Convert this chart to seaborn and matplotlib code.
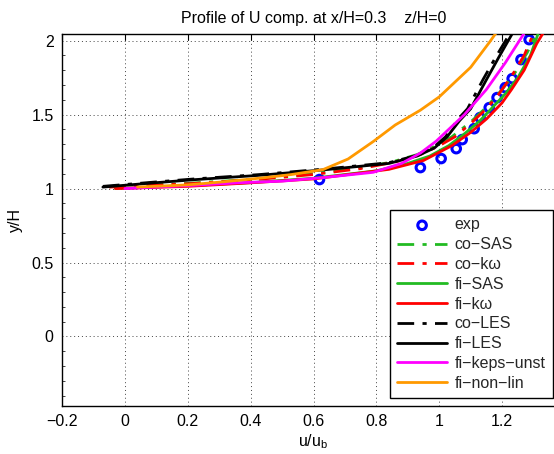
import matplotlib
matplotlib.use("Agg")
import matplotlib.pyplot as plt
import seaborn as sns
import pandas as pd
from matplotlib.ticker import MultipleLocator

sns.set_theme(style="white")
plt.rcParams['font.family'] = ['Liberation Sans', 'DejaVu Sans']

# ---- data ----
exp_u = [0.619, 0.940, 1.006, 1.054, 1.073, 1.111, 1.130, 1.159, 1.184, 1.210, 1.232, 1.260, 1.286]
exp_y = [1.061, 1.142, 1.203, 1.270, 1.331, 1.405, 1.480, 1.547, 1.615, 1.682, 1.743, 1.872, 2.007]

coSAS_u = [-0.05, 0.20, 0.40, 0.60, 0.75, 0.85, 0.93, 0.99, 1.04, 1.10, 1.15, 1.20, 1.24, 1.28, 1.31]
coSAS_y = [1.012, 1.035, 1.062, 1.100, 1.140, 1.180, 1.230, 1.290, 1.350, 1.450, 1.550, 1.670, 1.780, 1.920, 2.050]

cokw_u = [-0.05, 0.20, 0.40, 0.60, 0.75, 0.86, 0.94, 1.00, 1.05, 1.10, 1.15, 1.19, 1.23, 1.27, 1.30]
cokw_y = [1.010, 1.032, 1.058, 1.095, 1.135, 1.180, 1.230, 1.290, 1.350, 1.440, 1.540, 1.640, 1.760, 1.900, 2.050]

fiSAS_u = [-0.03, 0.20, 0.40, 0.60, 0.80, 0.90, 0.97, 1.03, 1.08, 1.13, 1.17, 1.21, 1.25, 1.29, 1.315]
fiSAS_y = [1.000, 1.020, 1.040, 1.070, 1.120, 1.170, 1.220, 1.290, 1.370, 1.460, 1.550, 1.640, 1.750, 1.900, 2.050]

fikw_u = [-0.03, 0.20, 0.37, 0.60, 0.84, 0.95, 1.04, 1.10, 1.15, 1.20, 1.23, 1.27, 1.31, 1.33]
fikw_y = [1.000, 1.015, 1.035, 1.065, 1.130, 1.190, 1.290, 1.380, 1.470, 1.580, 1.670, 1.800, 1.980, 2.050]

coLES_u = [-0.07, 0.10, 0.22, 0.43, 0.64, 0.84, 0.93, 0.98, 1.02, 1.06, 1.09, 1.14, 1.18, 1.225]
coLES_y = [1.015, 1.045, 1.065, 1.095, 1.133, 1.175, 1.225, 1.275, 1.350, 1.470, 1.540, 1.740, 1.890, 2.050]

fiLES_u = [-0.07, 0.10, 0.22, 0.43, 0.64, 0.84, 0.93, 0.985, 1.025, 1.065, 1.10, 1.15, 1.19, 1.233]
fiLES_y = [1.010, 1.040, 1.060, 1.090, 1.128, 1.170, 1.220, 1.275, 1.350, 1.460, 1.540, 1.736, 1.890, 2.050]

fikeps_u = [0.00, 0.20, 0.37, 0.50, 0.63, 0.79, 0.88, 0.94, 0.99, 1.03, 1.08, 1.15, 1.21, 1.27]
fikeps_y = [1.000, 1.020, 1.040, 1.050, 1.074, 1.110, 1.170, 1.240, 1.320, 1.400, 1.500, 1.670, 1.850, 2.050]

finl_u = [0.04, 0.20, 0.32, 0.45, 0.53, 0.63, 0.71, 0.79, 0.86, 0.94, 1.00, 1.06, 1.10, 1.16, 1.18]
finl_y = [1.010, 1.025, 1.047, 1.075, 1.095, 1.128, 1.200, 1.318, 1.430, 1.530, 1.620, 1.740, 1.820, 1.990, 2.050]

xtick_vals = [-0.2, 0, 0.2, 0.4, 0.6, 0.8, 1.0, 1.2]
xtick_labels = ["\u22120.2", "0", "0.2", "0.4", "0.6", "0.8", "1", "1.2"]
ytick_vals = [0, 0.5, 1, 1.5, 2]
ytick_labels = ["0", "0.5", "1", "1.5", "2"]

dashdot = (0, (6, 3, 1.5, 3))
series = [
    ("co\u2212SAS", coSAS_u, coSAS_y, "#22bb22", dashdot),
    ("co\u2212k\u03c9", cokw_u, cokw_y, "#ff0000", dashdot),
    ("fi\u2212SAS", fiSAS_u, fiSAS_y, "#22bb22", "-"),
    ("fi\u2212k\u03c9", fikw_u, fikw_y, "#ff0000", "-"),
    ("co\u2212LES", coLES_u, coLES_y, "#000000", dashdot),
    ("fi\u2212LES", fiLES_u, fiLES_y, "#000000", "-"),
    ("fi\u2212keps\u2212unst", fikeps_u, fikeps_y, "#ff00ff", "-"),
    ("fi\u2212non\u2212lin", finl_u, finl_y, "#ff9900", "-"),
]

FS = 11.5
fig = plt.figure(figsize=(5.54, 4.54), dpi=100)
ax = fig.add_axes([62/554, 48/454, 503/554, 372/454])

sns.scatterplot(x=exp_u, y=exp_y, ax=ax, marker="o", s=38, facecolor="none",
                edgecolor="#0000ff", linewidth=2.2, label="exp", zorder=2)

for name, u, y, c, ls in series:
    df = pd.DataFrame({"u": u, "y": y})
    sns.lineplot(data=df, x="u", y="y", ax=ax, sort=False, color=c,
                 linestyle=ls, linewidth=2.0, label=name, zorder=3, estimator=None)

ax.set_xlim(-0.2, 1.4)
ax.set_ylim(-0.47, 2.045)
ax.set_xticks(xtick_vals)
ax.set_xticklabels(xtick_labels)
ax.set_yticks(ytick_vals)
ax.set_yticklabels(ytick_labels)
ax.yaxis.set_minor_locator(MultipleLocator(0.1))
ax.tick_params(axis="both", which="major", direction="in", length=4, width=0.8,
               top=True, right=True, labelsize=FS, colors="#000000", pad=6)
ax.tick_params(axis="y", which="minor", direction="in", length=2, width=0.6,
               left=True, right=True)
for sp in ax.spines.values():
    sp.set_color("#000000")
    sp.set_linewidth(1.0)
ax.grid(True, which="major", linestyle=(0, (1, 3)), color="#444444", linewidth=0.7)

ax.set_xlabel("u/u$_\\mathregular{b}$", fontsize=FS, color="#000000", labelpad=2)
ax.set_ylabel("y/H", fontsize=FS, color="#000000", labelpad=6)
ax.set_title("Profile of U comp. at x/H=0.3    z/H=0", fontsize=FS, color="#000000", pad=8)

leg = ax.legend(loc="lower right", bbox_to_anchor=(553/554, 56/454),
                bbox_transform=fig.transFigure, borderaxespad=0,
                fontsize=FS, handlelength=3.1, labelspacing=0.30,
                frameon=True, fancybox=False, edgecolor="#000000",
                framealpha=1, borderpad=0.45, handletextpad=0.5)
leg.get_frame().set_linewidth(1.0)

fig.savefig("out.png", dpi=100)
